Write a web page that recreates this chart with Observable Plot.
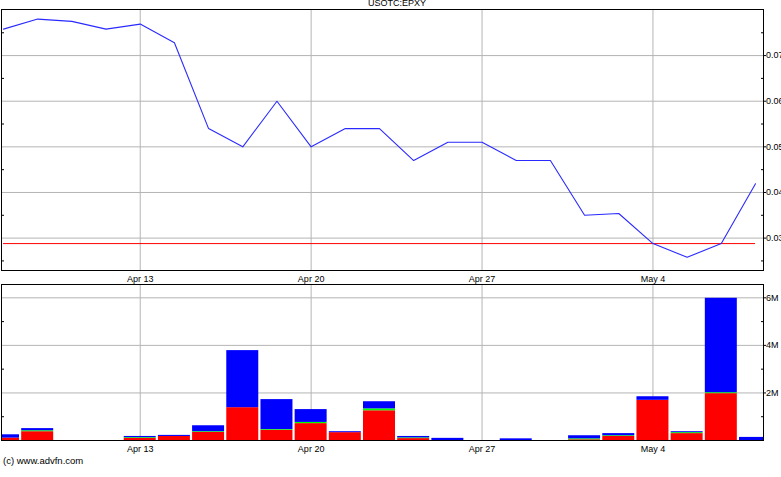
<!DOCTYPE html>
<html>
<head>
<meta charset="utf-8">
<script src="https://cdn.jsdelivr.net/npm/d3@7"></script>
<script src="https://cdn.jsdelivr.net/npm/@observablehq/plot@0.6"></script>
<style>
  html, body { margin: 0; padding: 0; background: #fff; }
  #wrap { position: relative; width: 781px; height: 477px; overflow: hidden; background: #fff;
          font-family: "Liberation Sans", Arial, sans-serif; color: #000; }
  #title { position: absolute; top: -1px; left: 0; width: 794px; text-align: center; font-size: 9px; line-height: 9px; }
  #top { position: absolute; top: 0; left: 0; }
  #bottom { position: absolute; top: 270px; left: 0; }
  #credit { position: absolute; top: 455.5px; left: 3px; font-size: 9.5px; line-height: 10px; }
  svg { overflow: visible; }
</style>
</head>
<body>
<div id="wrap">
  <div id="top"></div>
  <div id="bottom"></div>
  <div id="title">USOTC:EPXY</div>
  <div id="credit">(c) www.advfn.com</div>
</div>
<script>
// Trading days shown on the chart
const days = ["Apr 7","Apr 8","Apr 9","Apr 10","Apr 13","Apr 14","Apr 15","Apr 16","Apr 17",
  "Apr 20","Apr 21","Apr 22","Apr 23","Apr 24","Apr 27","Apr 28","Apr 29","Apr 30","May 1",
  "May 4","May 5","May 6","May 7"];
// Closing price
const price = [0.0758,0.0780,0.0775,0.0758,0.0769,0.0728,0.0540,0.0500,0.0600,0.0500,0.0540,
  0.0540,0.0470,0.0510,0.0510,0.0470,0.0470,0.0350,0.0354,0.0288,0.0258,0.0288,0.0419];
// Reference price line
const refPrice = 0.0288;
// Volume components (shares)
const volRed = [0.10,0.37,0,0,0.09,0.17,0.34,1.38,0.43,0.71,0.33,1.25,0.08,0,0,0,0,0.03,0.17,1.69,0.29,1.97,0].map(v => v * 1e6);
const volGreen = [0,0.04,0,0,0.03,0,0.03,0,0.03,0.05,0,0.08,0.03,0,0,0,0,0.04,0.03,0,0.04,0.04,0].map(v => v * 1e6);
const volBlue = [0.14,0.09,0,0,0.05,0.045,0.25,2.40,1.26,0.54,0.04,0.30,0.06,0.09,0,0.07,0,0.13,0.09,0.15,0.04,3.97,0.13].map(v => v * 1e6);
// Axis ticks
const xTickLabels = ["Apr 13","Apr 20","Apr 27","May 4"];
const priceTicks = [0.03,0.04,0.05,0.06,0.07];
const priceMinor = [0.025,0.035,0.045,0.055,0.065,0.075];
const volTicks = [2e6,4e6,6e6];
const volMinor = [1e6,3e6,5e6];

const xTickIdx = xTickLabels.map(l => days.indexOf(l));
const idx = days.map((d, i) => i);
const gridColor = "#b4b4b4";
const fontStyle = {fontFamily: "'Liberation Sans', Arial, sans-serif", fontSize: "9px", background: "transparent", overflow: "visible", color: "#000"};
const xScale = {domain: [0, days.length - 1], range: [3, 755], axis: null};

const topPlot = Plot.plot({
  width: 781, height: 290,
  marginTop: 9, marginBottom: 20, marginLeft: 1, marginRight: 18,
  style: fontStyle,
  x: xScale,
  y: {domain: [0.0229, 0.0801], axis: null},
  marks: [
    Plot.gridY(priceTicks, {stroke: gridColor, strokeOpacity: 1}),
    Plot.gridX(xTickIdx, {stroke: gridColor, strokeOpacity: 1}),
    Plot.ruleY([refPrice], {x2: days.length - 1, stroke: "#ff0000"}),
    Plot.line(idx, {x: i => i, y: i => price[i], stroke: "#2a2aff", strokeWidth: 1.1}),
    Plot.frame({stroke: "#000"}),
    Plot.axisY(priceTicks, {anchor: "right", tickSize: 2, tickPadding: 0.5, tickFormat: d => d.toFixed(2)}),
    Plot.axisY(priceMinor, {anchor: "right", tickSize: -3, tickFormat: () => ""}),
    Plot.axisY(priceMinor, {anchor: "left", tickSize: -3, tickFormat: () => ""}),
    Plot.axisX(xTickIdx, {anchor: "bottom", tickSize: 0, tickPadding: 5, tickFormat: i => days[i]})
  ]
});
document.getElementById("top").appendChild(topPlot);

// Build stacked volume segments
const segs = [];
idx.forEach(i => {
  let base = 0;
  [["red", volRed[i], "#ff0000"], ["green", volGreen[i], "#00ff00"], ["blue", volBlue[i], "#0000ff"]].forEach(([k, v, c]) => {
    if (v > 0) segs.push({i, y1: base, y2: base + v, fill: c});
    base += v;
  });
});

const bottomPlot = Plot.plot({
  width: 781, height: 190,
  marginTop: 14, marginBottom: 20, marginLeft: 1, marginRight: 18,
  style: fontStyle,
  x: xScale,
  y: {domain: [0, 6.56e6], axis: null},
  marks: [
    Plot.gridY(volTicks, {stroke: gridColor, strokeOpacity: 1}),
    Plot.gridX(xTickIdx, {stroke: gridColor, strokeOpacity: 1}),
    Plot.rect(segs, {x1: d => d.i - 0.468, x2: d => d.i + 0.468, y1: "y1", y2: "y2", fill: d => d.fill, clip: true}),
    Plot.frame({stroke: "#000"}),
    Plot.axisY(volTicks, {anchor: "right", tickSize: 2, tickPadding: 0.5, tickFormat: d => (d / 1e6) + "M"}),
    Plot.axisY(volMinor, {anchor: "right", tickSize: -3, tickFormat: () => ""}),
    Plot.axisY(volMinor, {anchor: "left", tickSize: -3, tickFormat: () => ""}),
    Plot.axisX(xTickIdx, {anchor: "bottom", tickSize: 0, tickPadding: 5, tickFormat: i => days[i]})
  ]
});
document.getElementById("bottom").appendChild(bottomPlot);
</script>
</body>
</html>
